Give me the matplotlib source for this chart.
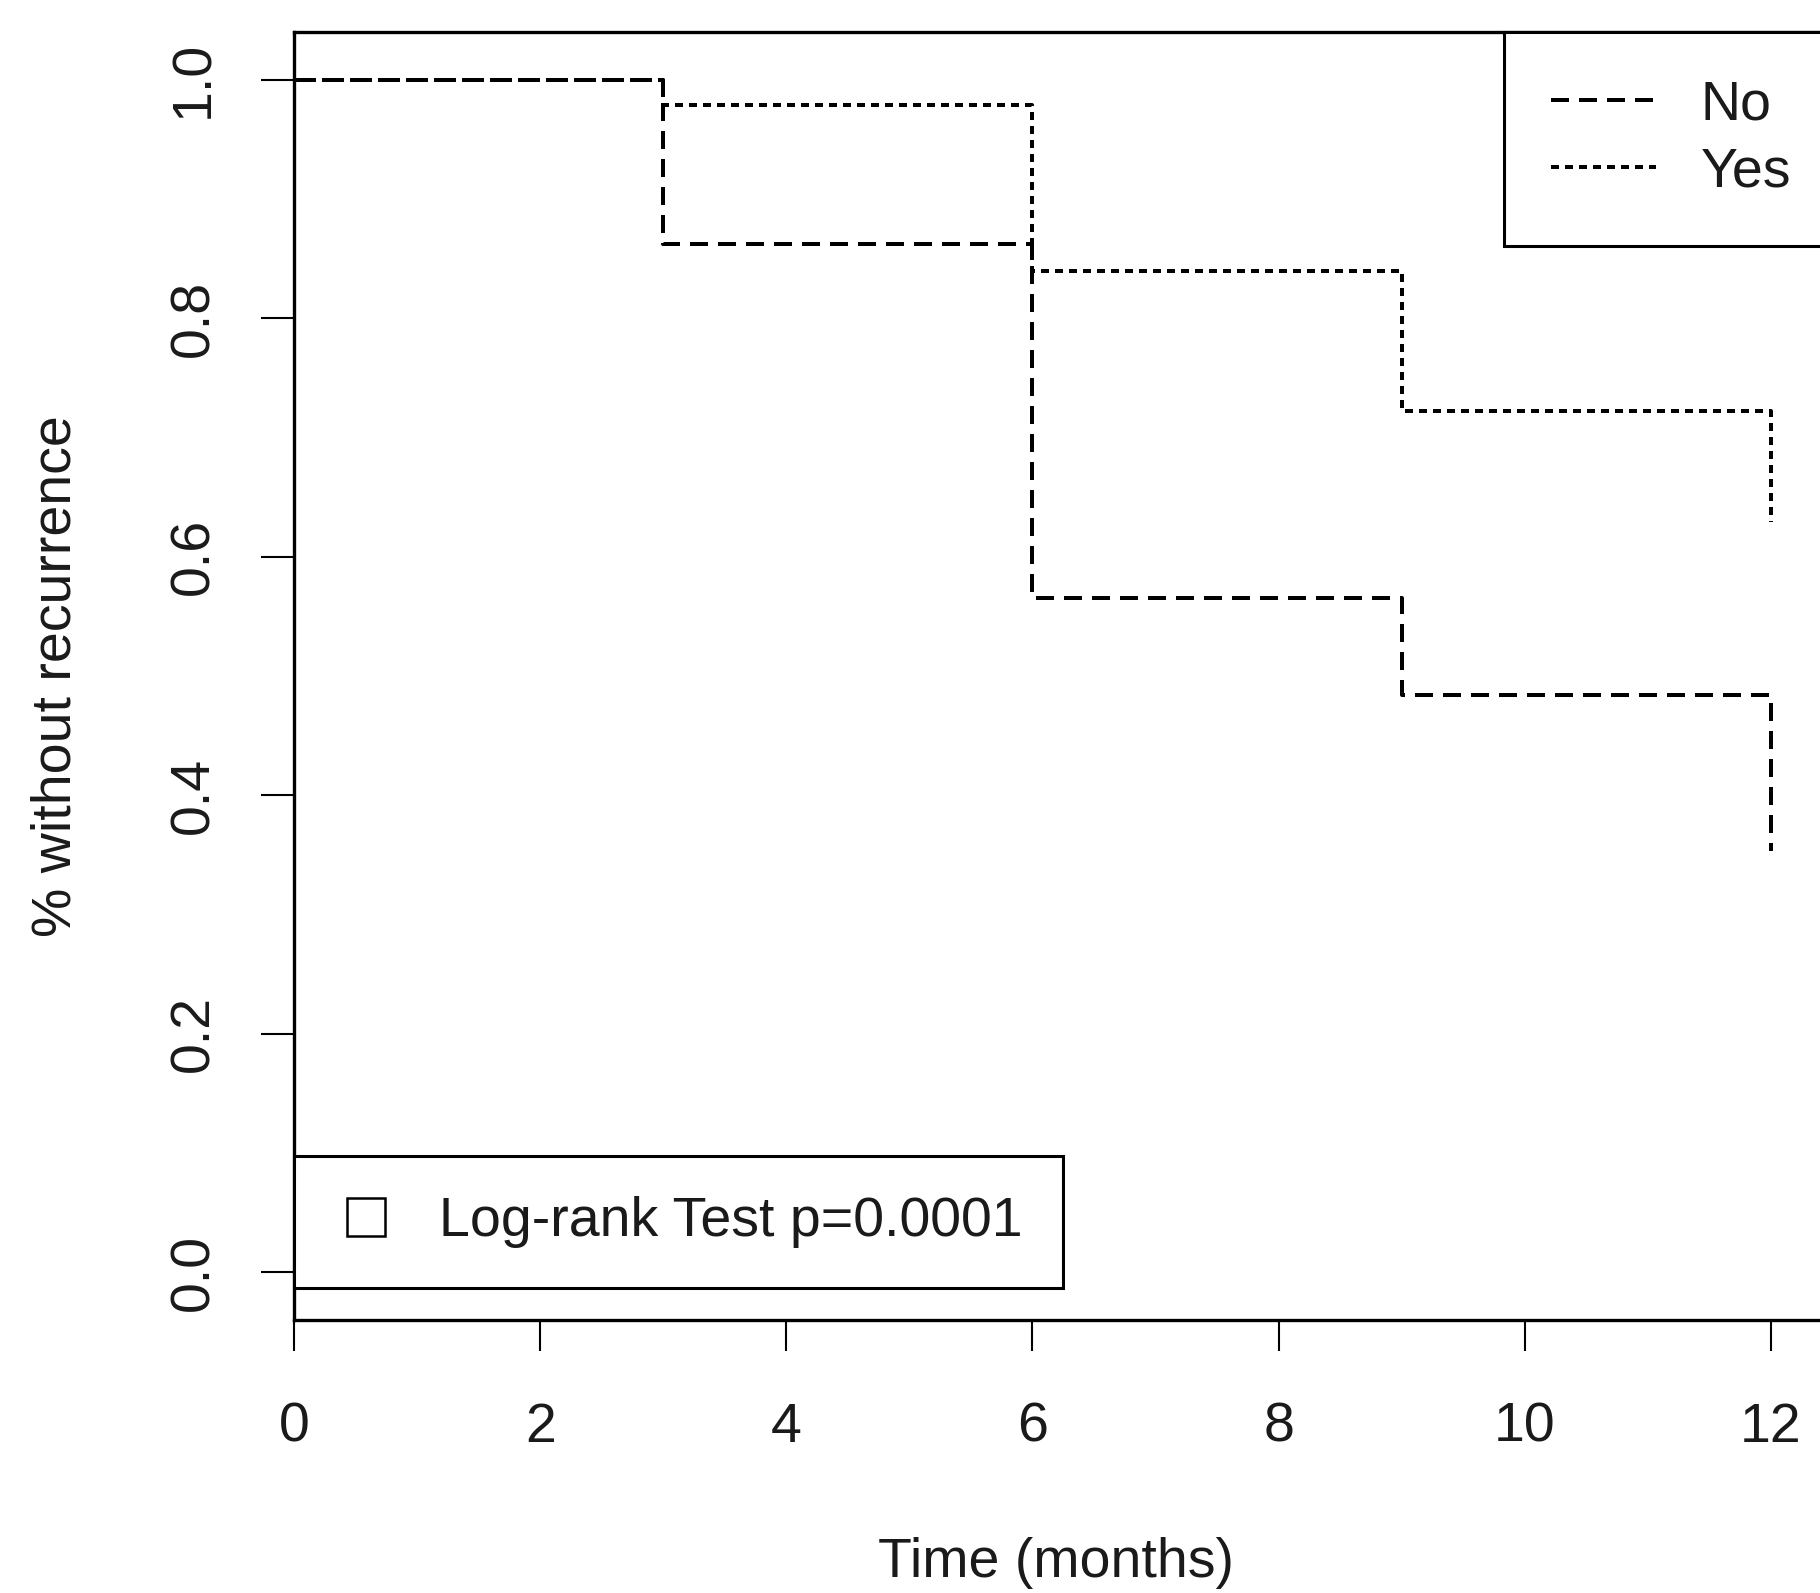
import matplotlib
matplotlib.use("Agg")
import matplotlib.pyplot as plt
from matplotlib.lines import Line2D

# ---- data ----
time_months = [0, 3, 6, 9, 12]
surv_no = [1.0, 0.862, 0.565, 0.484, 0.353]
surv_yes = [1.0, 0.979, 0.840, 0.722, 0.629]
group_labels = ["No", "Yes"]
x_ticks = [0, 2, 4, 6, 8, 10, 12]
y_ticks = [0.0, 0.2, 0.4, 0.6, 0.8, 1.0]
x_label = "Time (months)"
y_label = "% without recurrence"
test_label = "Log-rank Test p=0.0001"

plt.rcParams['font.family'] = ['Liberation Sans', 'DejaVu Sans']
FS = 40
TXT = '#1a1a1a'

fig = plt.figure(figsize=(18.2, 15.93), dpi=100)
fig.patch.set_facecolor("white")
ax = fig.add_axes([294/1820, 1 - 1320/1593, 1536/1820, 1288/1593])

LW = 2.88
l_no, = ax.step(time_months, surv_no, where='post', color='black', lw=LW,
                linestyle=(0, (4.5, 2.5)))
l_yes, = ax.step(time_months, surv_yes, where='post', color='black', lw=LW,
                 linestyle=(0, (2.0, 1.5)))

ax.set_xlim(0, 12.48)
ax.set_ylim(-0.04, 1.04)

ax.set_xticks(x_ticks)
ax.set_xticklabels([str(v) for v in x_ticks])
ax.set_yticks(y_ticks)
ax.set_yticklabels([f"{v:.1f}" for v in y_ticks])
plt.setp(ax.get_yticklabels(), rotation=90, va='center')

ax.tick_params(axis='x', direction='out', length=22.5, width=1.5, pad=36.5,
               labelsize=FS, colors='black', labelcolor=TXT)
ax.tick_params(axis='y', direction='out', length=23.5, width=1.5, pad=29.5,
               labelsize=FS, colors='black', labelcolor=TXT)
for s in ax.spines.values():
    s.set_linewidth(2.4)
    s.set_color('black')

ax.set_xlabel(x_label, fontsize=FS, color=TXT)
ax.xaxis.set_label_coords(0.496, -0.1887)
ax.xaxis.label.set_verticalalignment('center')
ax.set_ylabel(y_label, fontsize=FS, color=TXT)
ax.yaxis.set_label_coords(-0.1543, 0.5)
ax.yaxis.label.set_verticalalignment('center')

leg1 = ax.legend([l_no, l_yes], group_labels, loc='upper left',
                 bbox_to_anchor=(0.7878, 1.0), borderaxespad=0,
                 fontsize=FS, frameon=True, fancybox=False, framealpha=1,
                 edgecolor='black', borderpad=0.85, handlelength=1.89,
                 handletextpad=0.8, labelspacing=0.28, labelcolor=TXT)
leg1.get_frame().set_linewidth(2.2)
ax.add_artist(leg1)

sq = Line2D([], [], linestyle='none', marker='s', markersize=27,
            markerfacecolor='white', markeredgecolor='black', markeredgewidth=1.8)
leg2 = ax.legend([sq], [test_label], loc='lower left',
                 bbox_to_anchor=(0.0, 0.0248), borderaxespad=0,
                 fontsize=FS, frameon=True, fancybox=False, framealpha=1,
                 edgecolor='black', borderpad=0.72, handlelength=1.15,
                 handletextpad=0.74, labelcolor=TXT)
leg2.get_frame().set_linewidth(2.2)

fig.savefig("out.png", dpi=100, facecolor='white')
